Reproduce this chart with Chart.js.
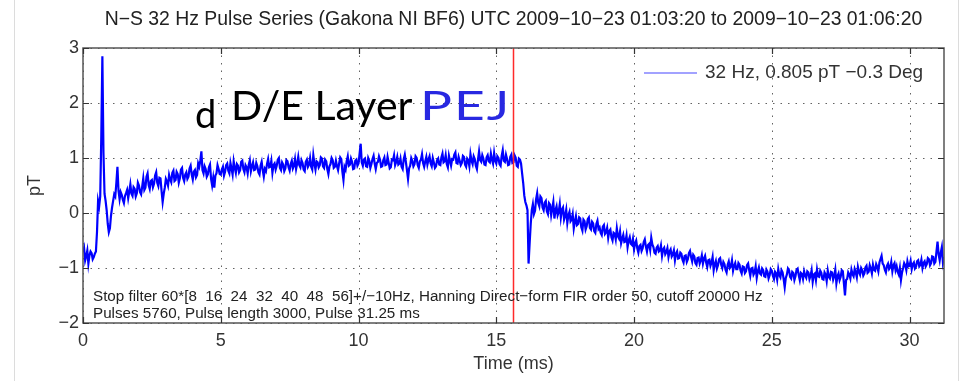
<!DOCTYPE html>
<html>
<head>
<meta charset="utf-8">
<script src="https://cdn.jsdelivr.net/npm/chart.js@4.4.1/dist/chart.umd.min.js"></script>
<style>
  html, body { margin: 0; padding: 0; background: #ffffff; }
  #wrap { width: 968px; height: 381px; position: relative; }
</style>
</head>
<body>
<div id="wrap"><canvas id="c" width="968" height="381"></canvas></div>
<script>
// ---- labels -------------------------------------------------------------
const chartTitle = 'N\u2212S 32 Hz Pulse Series (Gakona NI BF6) UTC 2009\u221210\u221223 01:03:20 to 2009\u221210\u221223 01:06:20';
const seriesLabel = '32 Hz, 0.805 pT \u22120.3 Deg';
const xAxisTitle = 'Time (ms)';
const yAxisTitle = 'pT';
const filterNotes = [
  'Stop filter 60*[8  16  24  32  40  48  56]+/\u221210Hz, Hanning Direct\u2212form FIR order 50, cutoff 20000 Hz',
  'Pulses 5760, Pulse length 3000, Pulse 31.25 ms'
];
const panelLetter = 'd';
const layerText = 'D/E Layer';
const pejText = 'PEJ';

// ---- axes ---------------------------------------------------------------
const xTicks = [0, 5, 10, 15, 20, 25, 30];
const yTicks = [-2, -1, 0, 1, 2, 3];
const xRange = [0, 31.25];
const yRange = [-2, 3];

// ---- averaged 32 Hz pulse (pT), one value per 0.0390625 ms (32 per row = 1.25 ms)
const sampleStepMs = 0.0390625;
const pulseValues = [
  -0.72, -0.64, -0.86, -0.78, -0.68, -0.92, -0.77, -0.70, -0.73, -0.84, -0.80, -0.74, -0.70, -0.35, 0.22, 0.12, 0.30, 1.40, 2.85, 1.10, 0.35, 0.22, 0.05, -0.20, -0.35, -0.28, -0.05, 0.10, 0.22, 0.34, 0.30, 0.55,
  0.84, 0.40, 0.25, 0.38, 0.33, 0.24, 0.18, 0.31, 0.36, 0.42, 0.27, 0.39, 0.52, 0.35, 0.31, 0.47, 0.44, 0.30, 0.36, 0.55, 0.50, 0.38, 0.34, 0.48, 0.63, 0.42, 0.46, 0.66, 0.72, 0.51, 0.44, 0.58,
  0.60, 0.47, 0.53, 0.68, 0.74, 0.55, 0.49, 0.64, 0.63, 0.40, 0.20, 0.35, 0.46, 0.62, 0.57, 0.50, 0.69, 0.61, 0.56, 0.73, 0.77, 0.58, 0.60, 0.75, 0.71, 0.55, 0.63, 0.79, 0.82, 0.64, 0.58, 0.70,
  0.74, 0.62, 0.66, 0.81, 0.86, 0.70, 0.61, 0.75, 0.78, 0.65, 0.69, 0.90, 0.84, 0.95, 1.12, 0.78, 0.72, 0.85, 0.80, 0.66, 0.70, 0.83, 0.88, 0.62, 0.50, 0.64, 0.46, 0.68, 0.72, 0.87, 0.80, 0.71,
  0.70, 0.79, 0.84, 0.68, 0.75, 0.87, 0.90, 0.77, 0.72, 0.91, 0.81, 0.70, 0.94, 0.82, 0.73, 0.89, 0.86, 0.74, 0.78, 0.93, 0.95, 0.80, 0.74, 0.87, 0.83, 0.72, 0.88, 0.96, 0.76, 0.85, 0.92, 0.78,
  0.79, 0.91, 0.85, 0.74, 0.70, 0.86, 0.93, 0.78, 0.66, 0.80, 0.76, 0.89, 0.98, 0.83, 0.84, 0.95, 0.73, 0.87, 0.90, 0.79, 0.86, 0.97, 1.00, 0.82, 0.78, 0.92, 0.88, 0.76, 0.81, 0.96, 0.94, 0.83,
  0.77, 0.89, 0.95, 0.81, 0.86, 0.98, 0.80, 0.90, 1.02, 0.87, 0.83, 0.96, 0.91, 0.79, 0.76, 0.93, 0.97, 0.84, 0.88, 1.00, 0.84, 0.79, 1.05, 0.90, 0.79, 0.94, 0.92, 0.83, 0.87, 1.01, 0.99, 0.85,
  0.82, 0.97, 0.94, 0.80, 0.71, 0.85, 0.89, 1.00, 0.96, 0.82, 0.84, 0.95, 0.85, 0.78, 0.90, 1.01, 0.98, 0.75, 0.60, 0.84, 0.79, 0.94, 1.03, 0.86, 0.88, 0.99, 0.93, 0.80, 0.81, 0.95, 0.97, 0.86,
  0.90, 1.08, 1.26, 0.92, 0.86, 0.97, 0.99, 0.85, 0.84, 1.00, 0.95, 0.82, 0.89, 0.98, 1.04, 0.90, 0.80, 0.91, 0.93, 1.03, 0.97, 0.84, 0.85, 0.96, 1.01, 0.87, 0.88, 1.02, 0.92, 0.81, 0.83, 0.97,
  0.96, 1.05, 0.87, 0.93, 1.02, 0.88, 0.90, 0.99, 0.84, 0.80, 0.98, 1.06, 0.93, 0.78, 0.62, 0.81, 0.86, 1.00, 0.95, 0.85, 0.89, 1.03, 1.00, 0.87, 0.82, 0.94, 0.97, 1.07, 0.91, 0.84, 0.94, 1.02,
  0.88, 0.97, 1.03, 0.90, 0.85, 1.00, 0.92, 0.82, 0.85, 0.96, 0.99, 0.88, 0.87, 1.01, 1.08, 0.92, 0.94, 1.05, 0.89, 0.83, 1.04, 0.95, 0.86, 0.98, 0.97, 1.06, 1.10, 0.91, 0.90, 1.02, 0.95, 0.87,
  0.91, 1.04, 1.02, 0.88, 0.84, 0.99, 0.96, 0.85, 1.07, 0.95, 0.89, 1.03, 0.98, 0.86, 0.80, 0.97, 1.12, 0.96, 0.93, 1.05, 0.99, 0.88, 0.87, 1.01, 1.05, 0.94, 0.92, 1.08, 0.97, 0.90, 1.09, 0.95,
  0.90, 1.03, 1.00, 0.89, 0.86, 1.04, 1.14, 0.95, 0.93, 1.06, 0.98, 0.87, 0.88, 1.02, 1.06, 0.91, 0.92, 1.05, 1.01, 0.86, 0.84, 0.99, 0.97, 0.90, 0.72, 0.55, 0.32, 0.20, 0.14, 0.05, -0.92, -0.55,
  -0.20, 0.05, 0.16, -0.02, 0.04, 0.25, 0.36, 0.18, 0.12, 0.30, 0.27, 0.10, 0.05, 0.19, 0.22, 0.03, -0.02, 0.18, 0.15, -0.04, 0.08, 0.20, -0.10, 0.05, 0.12, -0.04, 0.02, 0.16, -0.08, 0.06, 0.10, -0.12,
  -0.05, 0.06, -0.18, -0.04, 0.02, -0.15, -0.12, -0.02, -0.28, -0.16, -0.06, -0.22, -0.20, -0.08, -0.10, -0.26, -0.32, -0.12, -0.15, -0.30, -0.24, -0.11, -0.08, -0.27, -0.30, -0.16, -0.19, -0.33, -0.36, -0.20, -0.14, -0.29,
  -0.26, -0.36, -0.40, -0.25, -0.22, -0.38, -0.35, -0.27, -0.45, -0.33, -0.30, -0.44, -0.50, -0.36, -0.38, -0.48, -0.28, -0.42, -0.46, -0.34, -0.55, -0.47, -0.40, -0.53, -0.52, -0.41, -0.62, -0.50, -0.44, -0.56, -0.58, -0.47,
  -0.66, -0.55, -0.50, -0.64, -0.72, -0.60, -0.58, -0.69, -0.64, -0.53, -0.48, -0.61, -0.70, -0.58, -0.56, -0.67, -0.45, -0.57, -0.62, -0.72, -0.74, -0.63, -0.60, -0.70, -0.68, -0.59, -0.78, -0.66, -0.63, -0.75, -0.71, -0.64,
  -0.80, -0.70, -0.66, -0.79, -0.75, -0.68, -0.86, -0.74, -0.70, -0.83, -0.82, -0.72, -0.74, -0.85, -0.90, -0.78, -0.77, -0.89, -0.84, -0.73, -0.69, -0.80, -0.88, -0.76, -0.79, -0.91, -0.94, -0.82, -0.81, -0.92, -0.86, -0.77,
  -0.92, -0.83, -0.78, -0.90, -0.98, -0.86, -0.85, -0.96, -0.90, -0.80, -1.04, -0.93, -0.87, -1.01, -0.95, -0.84, -0.82, -0.94, -1.00, -0.89, -0.93, -1.03, -1.08, -0.94, -0.88, -1.00, -0.97, -0.86, -1.05, -0.96, -0.91, -1.02,
  -1.02, -0.91, -0.94, -1.05, -1.10, -0.97, -0.98, -1.09, -1.06, -0.95, -0.92, -1.04, -1.14, -1.01, -1.00, -1.12, -1.08, -0.97, -1.18, -1.06, -0.99, -1.10, -1.12, -1.01, -1.04, -1.15, -1.16, -1.03, -1.07, -1.19, -1.13, -1.02,
  -1.05, -1.14, -1.20, -1.07, -1.10, -1.21, -1.02, -1.13, -1.17, -1.04, -1.08, -1.20, -1.35, -1.18, -1.12, -1.01, -1.04, -1.16, -1.19, -1.07, -1.09, -1.22, -1.15, -1.03, -1.01, -1.13, -1.22, -1.09, -1.11, -1.20, -1.06, -1.14,
  -1.18, -1.06, -1.08, -1.20, -1.14, -1.04, -1.25, -1.12, -1.10, -1.22, -1.03, -1.15, -1.16, -1.05, -1.09, -1.20, -1.21, -1.08, -1.12, -1.24, -1.05, -1.16, -1.19, -1.07, -1.08, -1.21, -1.14, -1.03, -1.28, -1.15, -1.10, -1.22,
  -1.16, -1.04, -1.06, -1.28, -1.50, -1.22, -1.20, -1.08, -1.12, -1.19, -1.03, -1.11, -1.15, -1.02, -1.08, -1.17, -0.98, -1.07, -1.12, -1.00, -1.04, -1.14, -1.10, -0.99, -0.96, -1.09, -1.07, -0.95, -1.01, -1.10, -0.94, -1.03,
  -1.05, -0.93, -0.98, -1.06, -0.90, -0.84, -0.78, -0.92, -0.95, -1.03, -1.08, -0.96, -0.92, -1.02, -0.99, -0.89, -1.06, -0.95, -0.91, -1.04, -0.97, -1.07, -1.12, -1.00, -1.22, -1.08, -1.00, -0.91, -0.95, -1.04, -0.88, -0.97,
  -0.96, -0.87, -1.02, -0.93, -0.90, -1.01, -0.98, -0.88, -0.86, -0.97, -0.94, -0.85, -1.00, -0.91, -0.88, -0.97, -0.93, -0.82, -0.84, -0.95, -0.91, -0.79, -0.80, -0.92, -0.89, -0.70, -0.52, -0.75, -0.86, -0.72, -0.62, -0.90, -0.80
];

// time of the red marker line (ms)
const markerTimeMs = 15.625;

// ---- chart --------------------------------------------------------------
const pulsePoints = pulseValues.map((v, i) => ({ x: i * sampleStepMs, y: v }));
const markerPoints = [{ x: markerTimeMs, y: yRange[0] }, { x: markerTimeMs, y: yRange[1] }];

const matlabFont = '"Liberation Sans", Arial, Helvetica, sans-serif';
const textGrey = '#333333';

const decorPlugin = {
  id: 'decor',
  beforeDraw(chart) {
    const { ctx, width, height } = chart;
    ctx.save();
    ctx.fillStyle = '#ffffff';
    ctx.fillRect(0, 0, width, height);
    // faint page frame
    ctx.strokeStyle = '#dcdcdc';
    ctx.lineWidth = 1;
    ctx.beginPath();
    ctx.moveTo(14.5, 0); ctx.lineTo(14.5, height);
    ctx.moveTo(958.5, 0); ctx.lineTo(958.5, height);
    ctx.stroke();
    ctx.restore();
  },
  beforeDatasetsDraw(chart) {
    // dotted grid at the tick positions
    const { ctx, chartArea: a, scales } = chart;
    ctx.save();
    ctx.strokeStyle = 'rgba(70,70,70,0.85)';
    ctx.lineWidth = 1;
    ctx.setLineDash([1.5, 6]);
    ctx.beginPath();
    xTicks.forEach(t => {
      const px = Math.round(scales.x.getPixelForValue(t)) + 0.5;
      ctx.moveTo(px, a.top); ctx.lineTo(px, a.bottom);
    });
    yTicks.forEach(t => {
      const py = Math.round(scales.y.getPixelForValue(t)) + 0.5;
      ctx.moveTo(a.left, py); ctx.lineTo(a.right, py);
    });
    ctx.stroke();
    ctx.restore();
  },
  afterDatasetsDraw(chart) {
    const { ctx, chartArea: a, scales } = chart;
    const xs = scales.x, ys = scales.y;
    ctx.save();

    // axes box
    ctx.strokeStyle = '#555555';
    ctx.lineWidth = 1.5;
    ctx.strokeRect(a.left, a.top, a.right - a.left, a.bottom - a.top);

    // inward tick marks on all four sides
    ctx.lineWidth = 1.2;
    ctx.strokeStyle = '#333333';
    ctx.beginPath();
    xTicks.forEach(t => {
      const px = Math.round(xs.getPixelForValue(t)) + 0.5;
      ctx.moveTo(px, a.bottom); ctx.lineTo(px, a.bottom - 6);
      ctx.moveTo(px, a.top); ctx.lineTo(px, a.top + 6);
    });
    yTicks.forEach(t => {
      const py = Math.round(ys.getPixelForValue(t)) + 0.5;
      ctx.moveTo(a.left, py); ctx.lineTo(a.left + 6, py);
      ctx.moveTo(a.right, py); ctx.lineTo(a.right - 6, py);
    });
    ctx.stroke();

    // legend entry
    const ly = 73;
    ctx.strokeStyle = 'rgb(70,70,255)';
    ctx.lineWidth = 1.2;
    ctx.beginPath();
    ctx.moveTo(644, ly); ctx.lineTo(697, ly);
    ctx.stroke();
    ctx.fillStyle = textGrey;
    ctx.font = '19px ' + matlabFont;
    ctx.textBaseline = 'middle';
    ctx.textAlign = 'left';
    ctx.fillText(seriesLabel, 705, ly);

    // filter notes
    ctx.font = '15.2px ' + matlabFont;
    ctx.fillStyle = '#222222';
    ctx.textBaseline = 'alphabetic';
    ctx.fillText(filterNotes[0], 93, 301);
    ctx.fillText(filterNotes[1], 93, 318);

    // layer labels
    ctx.fillStyle = '#000000';
    ctx.font = '38px Lato, "Open Sans", sans-serif';
    ctx.fillText(panelLetter, 195, 128);
    ctx.font = '41px Lato, "Open Sans", sans-serif';
    ctx.fillText(layerText, 231, 120);
    ctx.fillStyle = 'rgb(40,40,225)';
    ctx.save();
    ctx.translate(420, 120);
    ctx.scale(1.3, 1);
    ctx.letterSpacing = '1.5px';
    ctx.fillText(pejText, 0, 0);
    ctx.restore();

    // title and axis titles
    ctx.fillStyle = '#222222';
    ctx.font = '19.4px ' + matlabFont;
    ctx.textAlign = 'center';
    ctx.textBaseline = 'middle';
    ctx.fillText(chartTitle, (a.left + a.right) / 2, 20);
    ctx.fillStyle = textGrey;
    ctx.font = '18px ' + matlabFont;
    ctx.fillText(xAxisTitle, (a.left + a.right) / 2, 364);
    ctx.translate(35, (a.top + a.bottom) / 2);
    ctx.rotate(-Math.PI / 2);
    ctx.fillText(yAxisTitle, 0, 0);
    ctx.restore();
  }
};

new Chart(document.getElementById('c'), {
  type: 'line',
  data: {
    datasets: [
      {
        label: 'marker',
        data: markerPoints,
        borderColor: '#ff2a2a',
        borderWidth: 1.5,
        pointRadius: 0,
        order: 0
      },
      {
        label: seriesLabel,
        data: pulsePoints,
        borderColor: '#0000ff',
        borderWidth: 2.2,
        pointRadius: 0,
        tension: 0,
        order: 1
      }
    ]
  },
  options: {
    responsive: false,
    animation: false,
    devicePixelRatio: 1,
    layout: { padding: { top: 48, right: 24, left: 0, bottom: 0 } },
    plugins: { legend: { display: false }, tooltip: { enabled: false }, title: { display: false } },
    scales: {
      x: {
        type: 'linear',
        min: xRange[0],
        max: xRange[1],
        afterBuildTicks: s => { s.ticks = xTicks.map(v => ({ value: v })); },
        afterFit: s => { s.height = 58; },
        ticks: { color: textGrey, font: { family: matlabFont, size: 18 }, padding: 7, maxRotation: 0 },
        grid: { display: false, drawTicks: false },
        border: { display: false }
      },
      y: {
        type: 'linear',
        min: yRange[0],
        max: yRange[1],
        afterBuildTicks: s => { s.ticks = yTicks.map(v => ({ value: v })); },
        afterFit: s => { s.width = 83; },
        ticks: {
          color: textGrey,
          font: { family: matlabFont, size: 18 },
          padding: 4,
          callback: v => (v < 0 ? '\u2212' + Math.abs(v) : String(v))
        },
        grid: { display: false, drawTicks: false },
        border: { display: false }
      }
    }
  },
  plugins: [decorPlugin]
});
</script>
</body>
</html>
